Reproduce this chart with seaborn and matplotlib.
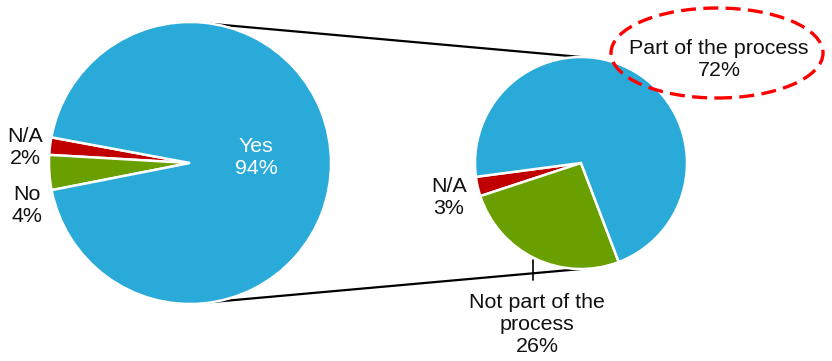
import matplotlib
matplotlib.use("Agg")
import matplotlib.pyplot as plt
from matplotlib.patches import Ellipse
import seaborn as sns

# Overall answers
main_labels = ["N/A", "No", "Yes"]
main_values = [2, 4, 94]

# Breakdown of the "Yes" answers
detail_labels = ["N/A", "Not part of the\nprocess", "Part of the process"]
detail_values = [3, 26, 72]

sns.set_theme(style="white")
plt.rcParams["font.family"] = ["Liberation Sans", "DejaVu Sans"]

BLUE, RED, GREEN = "#2AAAD9", "#C00000", "#6A9F00"
slice_colors = [RED, GREEN, BLUE]

W, H = 832, 361
fig = plt.figure(figsize=(W / 100, H / 100), dpi=100)
ax = fig.add_axes([0, 0, 1, 1])

left_c, left_r = (190, H - 163), 141
right_c, right_r = (581, H - 163), 106

# connector lines between the two pies
ax.plot([left_c[0], right_c[0]], [left_c[1] + left_r, right_c[1] + right_r],
        color="black", lw=1.6, zorder=0, solid_capstyle="butt")
ax.plot([left_c[0], right_c[0]], [left_c[1] - left_r, right_c[1] - right_r],
        color="black", lw=1.6, zorder=0, solid_capstyle="butt")

wedge_style = dict(edgecolor="white", linewidth=1.8)
ax.pie(main_values, colors=slice_colors, startangle=169.5, counterclock=True,
       center=left_c, radius=left_r, wedgeprops=wedge_style, frame=True)
ax.pie(detail_values, colors=slice_colors, startangle=187.5, counterclock=True,
       center=right_c, radius=right_r, wedgeprops=wedge_style, frame=True)

fs = 15.4
def label(i, labels, values):
    return f"{labels[i]}\n{values[i]}%"

ax.text(256, H - 157, label(2, main_labels, main_values), color="white",
        fontsize=fs, ha="center", va="center")
ax.text(25, H - 147, label(0, main_labels, main_values), color="#111111",
        fontsize=fs, ha="center", va="center")
ax.text(27, H - 206, label(1, main_labels, main_values), color="#111111",
        fontsize=fs, ha="center", va="center")

ax.text(449, H - 197, label(0, detail_labels, detail_values), color="#111111",
        fontsize=fs, ha="center", va="center")
ax.text(537, H - 324, label(1, detail_labels, detail_values), color="#111111",
        fontsize=fs, ha="center", va="center")
ax.plot([533, 533], [H - 260, H - 280], color="black", lw=1.2)
ax.text(719, H - 59, label(2, detail_labels, detail_values), color="#111111",
        fontsize=fs, ha="center", va="center")

ax.add_patch(Ellipse((717, H - 53), 212, 90, fill=False, edgecolor="#FF0000",
                     lw=2.4, linestyle=(0, (4.5, 2.2)), zorder=5))

ax.set_xlim(0, W)
ax.set_ylim(0, H)
ax.set_aspect("equal")
ax.axis("off")

fig.savefig("out.png", dpi=100)
